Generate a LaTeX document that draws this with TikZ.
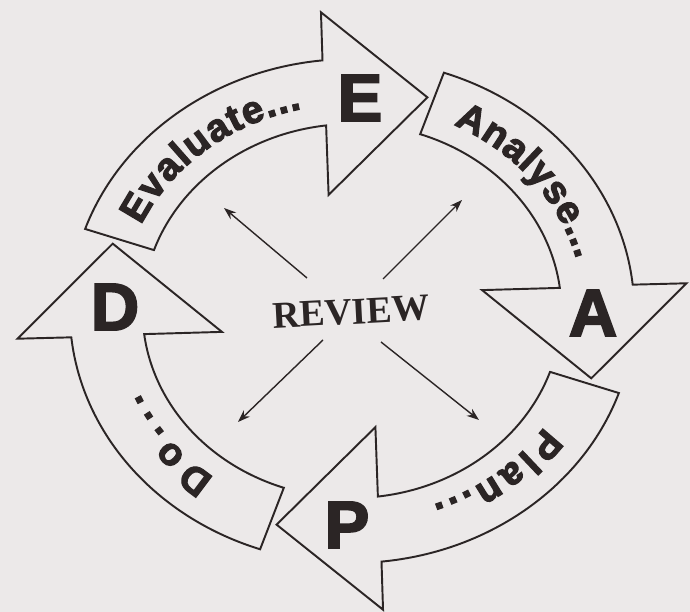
\documentclass[tikz,border=0pt]{standalone}
\usepackage{xcolor}
\usepackage{fontspec}
\usetikzlibrary{arrows.meta, decorations.text}
\newfontfamily\heavyfont{Liberation Sans}[BoldFeatures={FakeBold=3}]
\newfontfamily\reviewfont{Liberation Serif}
\newcommand{\arcfont}{\heavyfont\bfseries\fontsize{22}{24}\selectfont}
\definecolor{ink}{HTML}{2B2525}
\definecolor{paper}{HTML}{ECE9E9}

\begin{document}
\begin{tikzpicture}[x=0.02cm, y=0.02cm,
            cyclearrow/.style={draw=ink, line width=1.1pt, line join=miter},
            wordarc/.style={decorate, decoration={text along path, text align=fit to path, text color=ink, text={|\arcfont|#1}}},
            bigletter/.style={text=ink, font=\heavyfont\bfseries\fontsize{38}{38}\selectfont},
            ray/.style={-{Stealth[length=7pt, width=5pt]}, draw=ink, line width=0.8pt}]
            \fill[paper] (0,0) rectangle (690,612);
            \useasboundingbox (0,0) rectangle (690,612);
            % Cycle arrows
            \begin{scope}[shift={(352,301)}, xscale=1.12]
                \foreach \rot in {0,-90,-180,-270} {
                    \draw[cyclearrow, rotate=\rot] (161:187) -- (161:252)
                        arc[start angle=161, end angle=96, radius=252] -- (95.3:300) -- (72.5:224)
                        -- (100.2:118) -- (97.1:187) arc[start angle=97.1, end angle=161, radius=187] -- cycle;
                }
                % Words along the arrows
                \path[wordarc={Evaluate...}] (155.5:207) arc[start angle=155.5, end angle=102.5, radius=207];
                \path[wordarc={Analyse...}, rotate=-90] (154:207) arc[start angle=154, end angle=104.5, radius=207];
                \path[wordarc={Plan...}, rotate=-180] (146:207) arc[start angle=146, end angle=110.5, radius=207];
                \path[wordarc={Do...}, rotate=-270] (143.5:207) arc[start angle=143.5, end angle=113.5, radius=207];
            \end{scope}
            % Letters in the heads
            \node[bigletter] (E) at (360,514) {E};
            \node[bigletter] (A) at (593,299) {A};
            \node[bigletter] (P) at (347,87) {P};
            \node[bigletter] (D) at (115,305) {D};
            % Review
            \node[text=ink, font=\reviewfont\bfseries\fontsize{21.5}{24}\selectfont, rotate=3] (review) at (351,300) {REVIEW};
            \foreach \d/\sx/\sy/\ex/\ey in {nw/307/334/224/404, ne/383/333/462/412, sw/323/272/238/190, se/381/270/479/192} {
                \coordinate (\d0) at (\sx,\sy);
                \coordinate (\d1) at (\ex,\ey);
                \draw[ray] (\d0) -- (\d1);
            }
        \end{tikzpicture}
\end{document}
